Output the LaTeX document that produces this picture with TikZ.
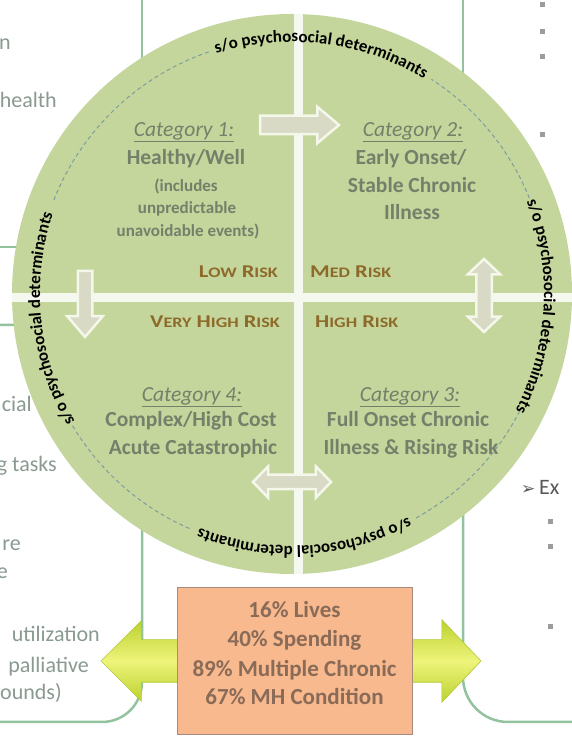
\documentclass[tikz,border=0pt]{standalone}
\usepackage{fontspec}
\setmainfont{Carlito}
\newfontfamily\symfam{DejaVu Sans}
\newfontfamily\riskfam[FakeStretch=1.25]{Carlito}
\usetikzlibrary{shapes.arrows,decorations.text}
\definecolor{circfill}{HTML}{C4D69C}
\definecolor{dashcol}{HTML}{7F9C9E}
\definecolor{crosscol}{HTML}{F5F8EE}
\definecolor{catgray}{HTML}{74806A}
\definecolor{riskbrown}{HTML}{8E6A2A}
\definecolor{arrowfill}{HTML}{D9DAC5}
\definecolor{arrowline}{HTML}{F4F7EA}
\definecolor{boxfill}{HTML}{F7B98D}
\definecolor{boxline}{HTML}{A68C7C}
\definecolor{boxtext}{HTML}{8A6B58}
\definecolor{edgetext}{HTML}{8A9A90}
\definecolor{framecol}{HTML}{93C29F}
\definecolor{bulletcol}{HTML}{9A9E9A}
\definecolor{ygedge}{HTML}{BCD12F}
\definecolor{ygmid}{HTML}{EEF47A}
\definecolor{ygline}{HTML}{B4C838}
\newcommand\arcfont{\bfseries\fontsize{17}{18}\selectfont}
\newcommand\rsc[2]{{\fontsize{18}{18}\selectfont #1}{\fontsize{14.5}{14.5}\selectfont #2}}
\newcommand\shaft[1]{\rule{0pt}{#1}}
\begin{document}
\begin{tikzpicture}[x=1pt,y=1pt,
  frame/.style={draw=framecol,line width=2.5pt},
  dashring/.style={draw=dashcol,line width=1pt,dash pattern=on 4pt off 3pt},
  crossline/.style={draw=crosscol,line width=9pt},
  cattitle/.style={font=\fontsize{21.5}{24}\selectfont\bfseries,text=catgray,anchor=mid,inner sep=0pt},
  catlabel/.style={font=\fontsize{21.5}{24}\selectfont\itshape,text=catgray,anchor=mid,inner sep=0pt},
  catsmall/.style={font=\fontsize{17}{19}\selectfont\bfseries,text=catgray,anchor=mid,inner sep=0pt},
  risk/.style={font=\riskfam\bfseries\fontsize{18}{18}\selectfont,text=riskbrown,inner sep=0pt},
  whitearr/.style={draw=arrowline,line width=2.5pt,fill=arrowfill,inner sep=0pt,outer sep=0pt,minimum width=1pt},
  yarr/.style={draw=ygline,line width=0.6pt,top color=ygedge,bottom color=ygedge,middle color=ygmid,inner sep=0pt,outer sep=0pt,minimum width=1pt},
  boxtxt/.style={font=\fontsize{23}{26}\selectfont\bfseries,text=boxtext,anchor=mid,inner sep=0pt},
  edgetxt/.style={font=\fontsize{22}{24}\selectfont,text=edgetext,inner sep=0pt},
  bulletsq/.style={rectangle,fill=bulletcol,minimum size=5pt,inner sep=0pt}
]
\useasboundingbox (0,0) rectangle (572,738);
\clip (0,0) rectangle (572,738);
\fill[white] (0,0) rectangle (572,738);
\coordinate (C) at (292,444);

% frames behind
\draw[frame] (142,745) -- (142,491) -- (-5,491);
\draw[frame,rounded corners=40pt] (-5,413) -- (142,413) -- (142,16) -- (-5,16);
\draw[frame] (463,745) -- (463,470);
\draw[frame,rounded corners=45pt] (463,420) -- (463,16) -- (590,16);

% circle
\fill[circfill] (C) circle[radius=280];

% white cross
\begin{scope}
\clip (C) circle[radius=280];
\draw[crossline] (298,740) -- (298,140);
\draw[crossline] (0,440.5) -- (580,440.5);
\end{scope}

% dashed ring, broken under the labels
\draw[dashring] ([shift={(109:256)}]C) arc[start angle=109,end angle=159,radius=256];
\draw[dashring] ([shift={(211:256)}]C) arc[start angle=211,end angle=247,radius=256];
\draw[dashring] ([shift={(299:256)}]C) arc[start angle=299,end angle=333,radius=256];
\draw[dashring] ([shift={(22:256)}]C) arc[start angle=22,end angle=57,radius=256];

% arc labels
\path[decorate,decoration={text along path,text align=center,text={|\arcfont|s/o psychosocial determinants}}]
  ([shift={(123:252)}]C) arc[start angle=123,end angle=43,radius=252];
\path[decorate,decoration={text along path,text align=center,text={|\arcfont|s/o psychosocial determinants}}]
  ([shift={(226:252)}]C) arc[start angle=226,end angle=146,radius=252];
\path[decorate,decoration={text along path,text align=center,text={|\arcfont|s/o psychosocial determinants}}]
  ([shift={(37:252)}]C) arc[start angle=37,end angle=-43,radius=252];
\path[decorate,decoration={text along path,text align=center,text={|\arcfont|s/o psychosocial determinants}}]
  ([shift={(313:252)}]C) arc[start angle=313,end angle=233,radius=252];

% category 1
\node[catlabel] (c1a) at (184,604) {\underline{Category 1:}};
\node[cattitle] (c1b) at (186,576) {Healthy/Well};
\node[catsmall] (c1c) at (186,549) {(includes};
\node[catsmall] (c1d) at (187,527) {unpredictable};
\node[catsmall] (c1e) at (188,504) {unavoidable events)};
% category 2
\node[catlabel] (c2a) at (413,604) {\underline{Category 2:}};
\node[cattitle] (c2b) at (411,576) {Early Onset/};
\node[cattitle] (c2c) at (412,548) {Stable Chronic};
\node[cattitle] (c2d) at (412,521) {Illness};
% category 4
\node[catlabel] (c4a) at (192,339) {\underline{Category 4:}};
\node[cattitle] (c4b) at (191,314) {Complex/High Cost};
\node[cattitle] (c4c) at (193,286) {Acute Catastrophic};
% category 3
\node[catlabel] (c3a) at (410,339) {\underline{Category 3:}};
\node[cattitle] (c3b) at (408,314) {Full Onset Chronic};
\node[cattitle] (c3c) at (411,286) {Illness \& Rising Risk};

% risk labels
\node[risk,anchor=mid east] (low) at (278,463) {\rsc{L}{OW} \rsc{R}{ISK}};
\node[risk,anchor=mid west] (med) at (310,463) {\rsc{M}{ED} \rsc{R}{ISK}};
\node[risk,anchor=mid east] (vhigh) at (280,413) {\rsc{V}{ERY} \rsc{H}{IGH} \rsc{R}{ISK}};
\node[risk,anchor=mid west] (high) at (315,413) {\rsc{H}{IGH} \rsc{R}{ISK}};

% white transition arrows
\node[whitearr,single arrow,anchor=tip,minimum height=79pt,single arrow head extend=9pt,single arrow tip angle=80] (r12) at (339,613) {\shaft{16pt}};
\node[whitearr,single arrow,rotate=270,anchor=tip,minimum height=66pt,single arrow head extend=10.5pt,single arrow tip angle=81] (d14) at (85,401) {\shaft{12pt}};
\node[whitearr,double arrow,rotate=90,minimum height=73pt,double arrow head extend=8.5pt,double arrow tip angle=93] (ud23) at (484,442.5) {\shaft{13pt}};
\node[whitearr,double arrow,minimum height=78pt,double arrow head extend=8.5pt,double arrow tip angle=92] (lr34) at (292,256) {\shaft{12pt}};

% yellow arrows
\node[yarr,single arrow,rotate=180,anchor=tip,minimum height=77pt,single arrow head extend=19pt,single arrow tip angle=90] (yl) at (101,77) {\shaft{42pt}};
\node[yarr,single arrow,anchor=tip,minimum height=69pt,single arrow head extend=20pt,single arrow tip angle=93] (yr) at (481,77) {\shaft{42pt}};

% stats box
\node[draw=boxline,line width=1pt,fill=boxfill,minimum width=235pt,minimum height=147pt,inner sep=0pt] (stats) at (294.5,76.5) {};
\node[boxtxt] (s1) at (294.5,123) {16\% Lives};
\node[boxtxt] (s2) at (294.5,94) {40\% Spending};
\node[boxtxt] (s3) at (294.5,64) {89\% Multiple Chronic};
\node[boxtxt] (s4) at (294.5,36) {67\% MH Condition};

% edge text fragments
\node[edgetxt,anchor=mid east] (e1) at (11,691) {n};
\node[edgetxt,anchor=mid east] (e2) at (57,633) {health};
\node[edgetxt,anchor=mid east] (e3) at (32,329) {cial};
\node[edgetxt,anchor=mid east] (e4) at (57,269) {g tasks};
\node[edgetxt,anchor=mid east] (e5) at (21,190) {re};
\node[edgetxt,anchor=mid east] (e6) at (8,162) {e};
\node[edgetxt,anchor=mid east] (e7) at (100,99) {utilization};
\node[edgetxt,anchor=mid east] (e8) at (89,68) {palliative};
\node[edgetxt,anchor=mid east] (e9) at (62,41) {ounds)};
\node[edgetxt,anchor=mid west,text=black!65] (ex) at (521,246) {{\symfam\fontsize{17}{17}\selectfont ➢}\,Ex};

% bullets
\node[bulletsq] (b1) at (542,733) {};
\node[bulletsq] (b2) at (542,706) {};
\node[bulletsq] (b3) at (542,681) {};
\node[bulletsq] (b4) at (542,603) {};
\node[bulletsq] (b5) at (550,216) {};
\node[bulletsq] (b6) at (550,191) {};
\node[bulletsq] (b7) at (550,111) {};
\end{tikzpicture}
\end{document}
